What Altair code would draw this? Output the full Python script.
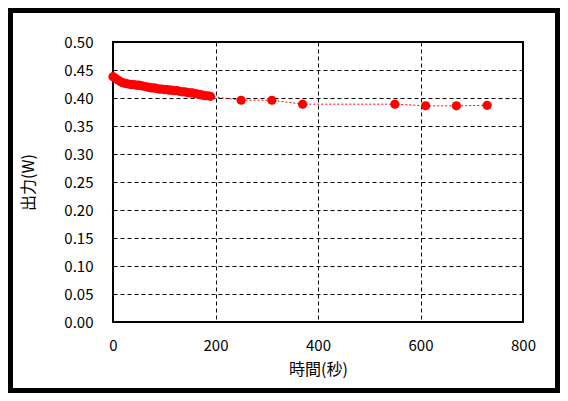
import altair as alt
import pandas as pd

time_s = [0, 5, 10, 15, 20, 25, 30, 35, 40, 45, 50, 55, 60, 65, 70, 75, 80, 85, 90, 95,
          100, 105, 110, 115, 120, 125, 130, 135, 140, 145, 150, 155, 160, 165, 170, 175,
          180, 185, 190,
          250, 310, 370, 550, 610, 670, 730]
power_w = [0.438, 0.435, 0.432, 0.429, 0.427, 0.426, 0.425, 0.424, 0.424, 0.423,
           0.423, 0.422, 0.421, 0.420, 0.419, 0.418, 0.418, 0.417, 0.416, 0.416,
           0.415, 0.415, 0.414, 0.414, 0.413, 0.413, 0.412, 0.411, 0.411, 0.410,
           0.409, 0.409, 0.408, 0.407, 0.406, 0.405, 0.404, 0.404, 0.403,
           0.396, 0.396, 0.389, 0.389, 0.386, 0.386, 0.387]

x_ticks = [0, 200, 400, 600, 800]
y_ticks = [0.0, 0.05, 0.10, 0.15, 0.20, 0.25, 0.30, 0.35, 0.40, 0.45, 0.50]

df = pd.DataFrame({"t": time_s, "p": power_w})

FONT = "Noto Sans CJK JP"
W, H = 410, 280

x = alt.X("t:Q", title="時間(秒)", scale=alt.Scale(domain=[0, 800], nice=False),
          axis=alt.Axis(values=x_ticks, format="d", grid=True, gridDash=[4, 3],
                        gridColor="black", gridWidth=1, tickSize=0, labelPadding=16,
                        labelFlush=False, domain=False, titlePadding=8))
y = alt.Y("p:Q", title="出力(W)", scale=alt.Scale(domain=[0, 0.5], nice=False),
          axis=alt.Axis(values=y_ticks, format=".2f", grid=True, gridDash=[4, 3],
                        gridColor="black", gridWidth=1, tickSize=0, labelPadding=20,
                        labelFlush=False, domain=False, titlePadding=27))

line = alt.Chart(df).mark_line(color="red", strokeWidth=1, strokeDash=[2, 2]).encode(x=x, y=y)
pts = alt.Chart(df).mark_circle(color="red", size=85, opacity=1).encode(x=x, y=y)

frame = alt.Chart(pd.DataFrame({"a": [0]})).mark_rect(
    fill=None, stroke="black", strokeWidth=10).encode(
    x=alt.value(-105), x2=alt.value(W + 37), y=alt.value(-34), y2=alt.value(H + 71))

chart = alt.layer(line, pts, frame).properties(
    width=W, height=H,
    autosize=alt.AutoSizeParams(type="none"),
    padding={"left": 105, "top": 34, "right": 37, "bottom": 71},
    background="white",
).configure_view(
    stroke="black", strokeWidth=2
).configure_axis(
    labelFont=FONT, titleFont=FONT, labelFontSize=15, titleFontSize=16,
    labelColor="black", titleColor="black", titleFontWeight="normal"
)

chart.save("out.html", embed_options={"renderer": "svg", "actions": False})
